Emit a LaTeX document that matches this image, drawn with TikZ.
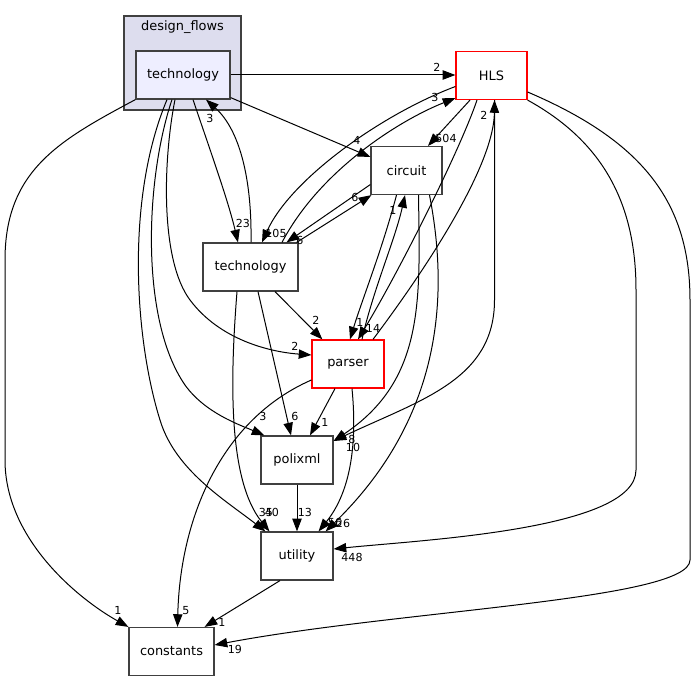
\documentclass[tikz,border=0pt]{standalone}
\usepackage{fontspec}
\setmainfont{DejaVu Sans}
\usetikzlibrary{arrows.meta,calc}
\definecolor{clusterfill}{HTML}{DDDDEE}
\definecolor{dirfill}{HTML}{EEEEFF}
\definecolor{boxline}{HTML}{404040}
\tikzset{
  dirbox/.style={draw=boxline, line width=0.9pt, fill=white, minimum height=36pt,
    inner sep=0pt, font=\fontsize{9.7}{11}\selectfont},
  hotbox/.style={dirbox, draw=red},
  clusterbox/.style={draw=boxline, line width=0.9pt, fill=clusterfill, inner sep=0pt},
  dep/.style={-{Triangle[length=9.5pt,width=7pt]}, line width=0.75pt},
  elabel/.style={inner sep=0pt, font=\fontsize{8.3}{9}\selectfont}
}
\begin{document}
\begin{tikzpicture}[x=0.75pt,y=-0.75pt]
\useasboundingbox[fill=white] (0,0) rectangle (693,681);
\node[clusterbox, minimum width=87.75pt, minimum height=70.5pt] (flows) at (182.5,63) {};
\node[inner sep=0pt, font=\fontsize{9.7}{11}\selectfont] (flowsname) at (182.5,27) {design\_flows};
\node[dirbox, fill=dirfill, minimum width=70.5pt] (dftech) at (183,75) {technology};
\node[hotbox, minimum width=53.25pt] (hls) at (491.5,75.5) {HLS};
\node[dirbox, minimum width=53.25pt] (circuit) at (406.5,170.5) {circuit};
\node[dirbox, minimum width=71.25pt] (tech) at (250.5,267) {technology};
\node[hotbox, minimum width=54pt] (parser) at (348,364) {parser};
\node[dirbox, minimum width=54pt] (polixml) at (297,460) {polixml};
\node[dirbox, minimum width=54pt] (utility) at (297,556) {utility};
\node[dirbox, minimum width=63.75pt] (constants) at (171.5,651.5) {constants};

% design_flows/technology
\draw[dep] (dftech.east) -- (dftech.east -| hls.west);
\draw[dep] ($(dftech.south east)+(0,-2)$) -- ($(circuit.west)+(0,-13.5)$);
\draw[dep] ($(dftech.south)+(10,0)$) .. controls (210,150) and (228,200) .. ($(tech.north)+(-12.5,0)$);
\draw[dep] ($(tech.north)+(0.5,0)$) .. controls (252,180) and (240,130) .. ($(dftech.south)+(23,0)$);
\draw[dep] ($(dftech.south)+(-8,0)$) .. controls (163,160) and (160,260) .. (190,300)
  .. controls (220,340) and (270,352) .. ($(parser.west)+(0,-9)$);
\draw[dep] ($(dftech.south)+(-11,0)$) .. controls (145,180) and (140,320) .. (185,385)
  .. controls (205,413) and (240,425) .. ($(polixml.north west)+(4,0)$);
\draw[dep] ($(dftech.south)+(-16,0)$) .. controls (125,200) and (135,340) .. (160,420)
  .. controls (175,470) and (225,500) .. ($(utility.north west)+(5,0)$);
\draw[dep] (dftech.south west) .. controls (60,140) and (5,170) .. (5,260) -- (5,460)
  .. controls (5,540) and (80,600) .. (constants.north west);

% HLS
\draw[dep] ($(hls.south)+(-21.5,0)$) -- ($(circuit.north)+(21.5,0)$);
\draw[dep] ($(hls.west)+(0,11)$) .. controls (380,115) and (290,180) .. ($(tech.north)+(11.5,0)$);
\draw[dep] ($(tech.north)+(31.5,0)$) .. controls (320,170) and (400,120) .. ($(hls.south west)+(0,-2)$);
\draw[dep] ($(hls.south)+(-14.5,0)$) .. controls (460,150) and (400,270) .. ($(parser.north)+(10,0)$);
\draw[dep] ($(parser.north)+(25,0)$) .. controls (440,250) and (494,160) .. ($(hls.south)+(3,0)$);
\draw[dep] ($(hls.south)+(3,0)$) -- (494.5,300) .. controls (494.5,380) and (420,400) .. ($(polixml.east)+(0,-19)$);
\draw[dep] (hls.south east) .. controls (600,140) and (636,200) .. (636,290) -- (636,470)
  .. controls (636,530) and (420,540) .. ($(utility.east)+(0,-7)$);
\draw[dep] ($(hls.east)+(0,16.5)$) .. controls (640,140) and (690,200) .. (690,300) -- (690,560)
  .. controls (690,600) and (400,610) .. ($(constants.east)+(0,-6.5)$);

% circuit
\draw[dep] ($(circuit.west)+(0,14)$) -- ($(tech.north)+(36,0)$);
\draw[dep] ($(tech.north east)+(-2,0)$) -- ($(circuit.south west)+(1,0)$);
\draw[dep] ($(circuit.south)+(-10,0)$) .. controls (382,250) and (362,300) .. ($(parser.north)+(2,0)$);
\draw[dep] ($(parser.north)+(14,0)$) .. controls (373,290) and (395,240) .. ($(circuit.south)+(-1.5,0)$);
\draw[dep] ($(circuit.south)+(12,0)$) .. controls (420,300) and (425,380) .. ($(polixml.east)+(0,-19)$);
\draw[dep] ($(circuit.south)+(23,0)$) .. controls (450,300) and (440,420) .. ($(utility.north east)+(-8,0)$);

% technology
\draw[dep] ($(tech.south)+(24.5,0)$) -- ($(parser.north west)+(11,0)$);
\draw[dep] ($(tech.south)+(7.5,0)$) -- ($(polixml.north)+(-6,0)$);
\draw[dep] ($(tech.south)+(-13.5,0)$) .. controls (230,380) and (228,480) .. ($(utility.north west)+(9,0)$);

% parser
\draw[dep] ($(parser.south)+(-13,0)$) -- ($(polixml.north)+(13,0)$);
\draw[dep] ($(parser.south)+(4,0)$) .. controls (357,440) and (352,490) .. ($(utility.north east)+(-15,0)$);
\draw[dep] ($(parser.west)+(0,16)$) .. controls (220,420) and (180,520) .. ($(constants.north)+(6,0)$);

% polixml, utility
\draw[dep] (polixml.south) -- (utility.north);
\draw[dep] ($(utility.south)+(-17,0)$) -- ($(constants.north east)+(-10,0)$);

% counts
\node[elabel] (n1) at (437,67) {2};
\node[elabel] (n2) at (357,140) {4};
\node[elabel] (n3) at (243,223) {23};
\node[elabel] (n4) at (210,118) {3};
\node[elabel] (n5) at (295,346) {2};
\node[elabel] (n6) at (263,416) {3};
\node[elabel] (n7) at (266,512) {35};
\node[elabel] (n8) at (118,610) {1};
\node[elabel] (n9) at (446,138) {504};
\node[elabel] (n10) at (276,233) {105};
\node[elabel] (n11) at (435,97) {3};
\node[elabel] (n12) at (373,328) {14};
\node[elabel] (n13) at (484,115) {2};
\node[elabel] (n14) at (353,447) {10};
\node[elabel] (n15) at (352,557) {448};
\node[elabel] (n16) at (235,649) {19};
\node[elabel] (n17) at (300,240) {6};
\node[elabel] (n18) at (355,197) {6};
\node[elabel] (n19) at (360,322) {1};
\node[elabel] (n20) at (393,210) {1};
\node[elabel] (n21) at (352,439) {8};
\node[elabel] (n22) at (343,523) {26};
\node[elabel] (n23) at (316,320) {2};
\node[elabel] (n24) at (295,416) {6};
\node[elabel] (n25) at (272,512) {40};
\node[elabel] (n26) at (325,422) {1};
\node[elabel] (n27) at (335,522) {56};
\node[elabel] (n28) at (186,611) {5};
\node[elabel] (n29) at (305,512) {13};
\node[elabel] (n30) at (222,622) {1};
\end{tikzpicture}
\end{document}
